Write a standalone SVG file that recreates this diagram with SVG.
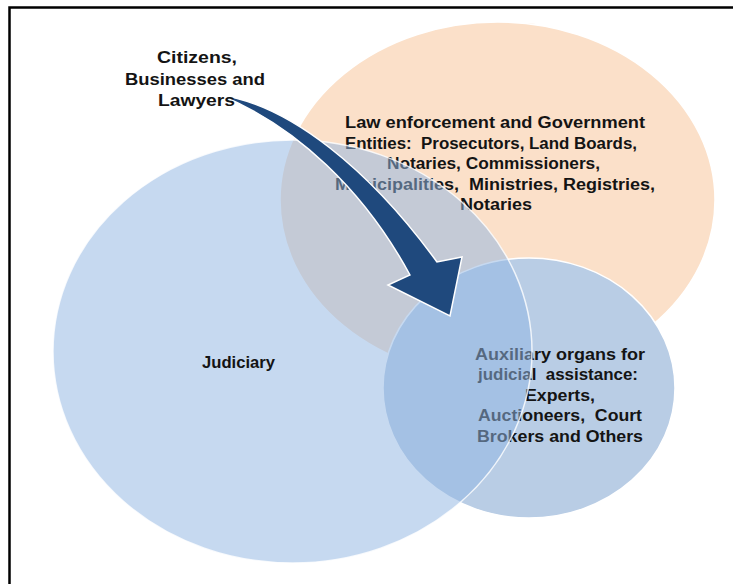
<svg xmlns="http://www.w3.org/2000/svg" width="733" height="584" viewBox="0 0 733 584">
  <style>
    .lbl { font-family: "Liberation Sans", Arial, sans-serif; font-weight: bold; font-size: 16px; fill: #141414; text-anchor: middle; white-space: pre; }
    .frame { fill: none; stroke: #000; stroke-width: 2.5; }
    .circ { stroke: #ffffff; stroke-width: 1.5; }
  </style>
  <rect width="733" height="584" fill="#ffffff"/>
  <path class="frame" d="M9.5,584 V7.5 H733"/>

  <g id="node-law">
    <ellipse class="circ" cx="497.5" cy="200" rx="217.5" ry="178" fill="#fbe0c9"/>
    <text class="lbl" x="495" y="128" textLength="300" lengthAdjust="spacingAndGlyphs">Law enforcement and Government</text>
    <text class="lbl" x="491" y="148.5" textLength="292" lengthAdjust="spacingAndGlyphs">Entities:  Prosecutors, Land Boards,</text>
    <text class="lbl" x="493.5" y="169" textLength="213" lengthAdjust="spacingAndGlyphs">Notaries, Commissioners,</text>
    <text class="lbl" x="495" y="189.5" textLength="320" lengthAdjust="spacingAndGlyphs">Municipalities,  Ministries, Registries,</text>
    <text class="lbl" x="496" y="210" textLength="72" lengthAdjust="spacingAndGlyphs">Notaries</text>
  </g>

  <g id="node-auxiliary">
    <ellipse class="circ" cx="529" cy="388" rx="146" ry="130" fill="#b9cde5"/>
    <text class="lbl" x="560" y="359.5" textLength="170" lengthAdjust="spacingAndGlyphs">Auxiliary organs for</text>
    <text class="lbl" x="558" y="380" textLength="160" lengthAdjust="spacingAndGlyphs">judicial  assistance:</text>
    <text class="lbl" x="560" y="400.5" textLength="70" lengthAdjust="spacingAndGlyphs">Experts,</text>
    <text class="lbl" x="560" y="421" textLength="164" lengthAdjust="spacingAndGlyphs">Auctioneers,  Court</text>
    <text class="lbl" x="560" y="441.5" textLength="166" lengthAdjust="spacingAndGlyphs">Brokers and Others</text>
  </g>

  <g id="node-judiciary">
    <ellipse cx="292.5" cy="351.5" rx="239.5" ry="211.5" fill="rgb(145,182,226)" fill-opacity="0.52" stroke="#ffffff" stroke-opacity="0.8" stroke-width="1.5"/>
    <text class="lbl" x="238.5" y="368" textLength="73" lengthAdjust="spacingAndGlyphs">Judiciary</text>
  </g>

  <g id="connectors">
    <path d="M220,95 C290,105 370,170 437,262 L462,257 L450,316 L388,285 L410,275 C364,190 296,126 220,95 Z" fill="#1f497d" stroke="#ffffff" stroke-width="1.5" stroke-linejoin="miter"/>
  </g>

  <g id="node-citizens">
    <text class="lbl" x="197" y="62.5" textLength="80" lengthAdjust="spacingAndGlyphs">Citizens,</text>
    <text class="lbl" x="195" y="84.5" textLength="140" lengthAdjust="spacingAndGlyphs">Businesses and</text>
    <text class="lbl" x="196.5" y="106" textLength="77" lengthAdjust="spacingAndGlyphs">Lawyers</text>
  </g>
</svg>
